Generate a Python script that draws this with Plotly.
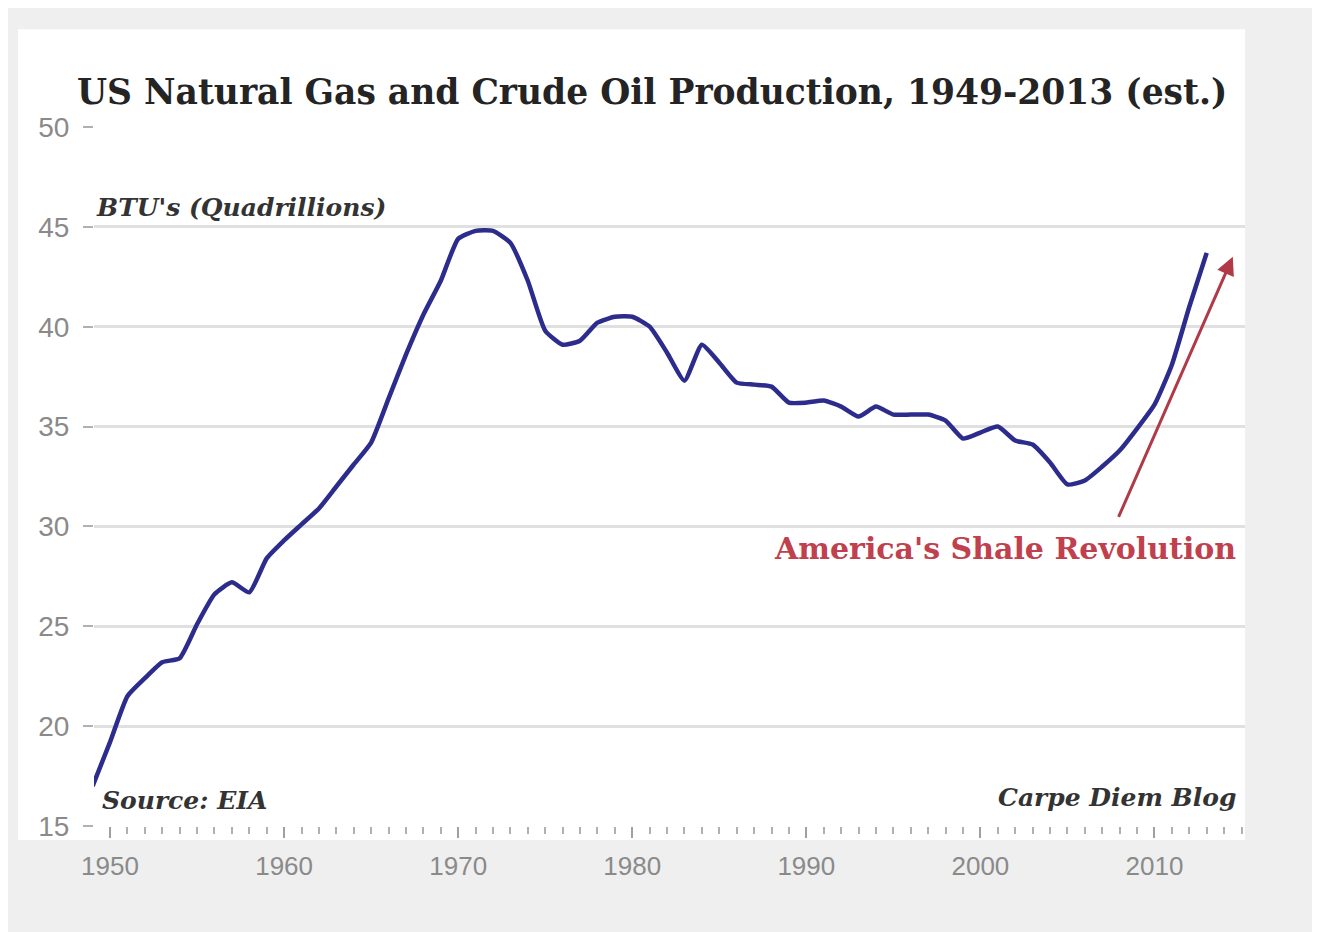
import plotly.graph_objects as go

years = list(range(1949, 2014))
btu = [
    17.0, 19.2, 21.5, 22.4, 23.2, 23.4, 25.1, 26.6, 27.2, 26.7,   # 1949-1958
    28.4, 29.3, 30.1, 30.9, 32.0, 33.1, 34.2, 36.4, 38.6, 40.6,   # 1959-1968
    42.3, 44.4, 44.8, 44.8, 44.2, 42.3, 39.8, 39.1, 39.3, 40.2,   # 1969-1978
    40.5, 40.5, 40.0, 38.7, 37.3, 39.1, 38.2, 37.2, 37.1, 37.0,   # 1979-1988
    36.2, 36.2, 36.3, 36.0, 35.5, 36.0, 35.6, 35.6, 35.6, 35.3,   # 1989-1998
    34.4, 34.7, 35.0, 34.3, 34.1, 33.2, 32.1, 32.3, 33.0, 33.8,   # 1999-2008
    34.9, 36.1, 38.1, 41.0, 43.7,                                 # 2009-2013
]

y_ticks = [15, 20, 25, 30, 35, 40, 45, 50]
x_ticks = [1950, 1960, 1970, 1980, 1990, 2000, 2010]

title_text = "US Natural Gas and Crude Oil Production, 1949-2013 (est.)"
unit_text = "BTU's (Quadrillions)"
source_text = "Source: EIA"
credit_text = "Carpe Diem Blog"
callout_text = "America's Shale Revolution"

fig = go.Figure()
fig.add_trace(go.Scatter(
    x=years, y=btu, mode="lines",
    line=dict(color="#2c2c8c", width=4.5, shape="spline", smoothing=0.5),
    hoverinfo="x+y", showlegend=False,
))

serif = "DejaVu Serif"
fig.update_layout(
    width=1312, height=924,
    margin=dict(l=86, r=75, t=119, b=106),
    paper_bgcolor="#efefef",
    plot_bgcolor="white",
    showlegend=False,
    shapes=[dict(type="rect", xref="paper", yref="paper",
                 x0=-0.066, x1=1.0, y0=-0.02, y1=1.14,
                 fillcolor="white", line=dict(width=0), layer="below")],
    xaxis=dict(
        range=[1949.08, 2015.2], tickvals=x_ticks, showgrid=False, zeroline=False,
        showline=False, ticks="outside", ticklen=11, tickwidth=2, tickcolor="#a0a0a0",
        tickfont=dict(family="Liberation Sans", size=26, color="#8a8a8a"),
        ticklabelstandoff=6,
        minor=dict(dtick=1, tick0=1949, ticks="outside", ticklen=7, tickwidth=2,
                   tickcolor="#b0b0b0", showgrid=False),
    ),
    yaxis=dict(
        range=[15, 50], tickvals=y_ticks, showgrid=True, gridcolor="#e0e0e0",
        gridwidth=3, zeroline=False, showline=False, ticks="outside", ticklen=10,
        tickwidth=2, tickcolor="#b0b0b0",
        tickfont=dict(family="Liberation Sans", size=28, color="#8a8a8a"),
        ticklabelstandoff=8,
    ),
    annotations=[
        dict(text=f"<b>{title_text}</b>", xref="paper", yref="paper",
             x=0.485, y=1.05, xanchor="center", yanchor="middle", showarrow=False,
             font=dict(family=serif, size=34.5, color="#242424")),
        dict(text=f"<b><i>{unit_text}</i></b>", xref="x", yref="y",
             x=1949.1, y=45.95, xanchor="left", yanchor="middle", showarrow=False,
             font=dict(family=serif, size=25, color="#333333")),
        dict(text=f"<b><i>{source_text}</i></b>", xref="x", yref="y",
             x=1949.4, y=16.3, xanchor="left", yanchor="middle", showarrow=False,
             font=dict(family=serif, size=25, color="#333333")),
        dict(text=f"<b><i>{credit_text}</i></b>", xref="x", yref="y",
             x=2014.8, y=16.45, xanchor="right", yanchor="middle", showarrow=False,
             font=dict(family=serif, size=25, color="#333333")),
        dict(text=f"<b>{callout_text}</b>", xref="x", yref="y",
             x=2001.4, y=28.9, xanchor="center", yanchor="middle", showarrow=False,
             font=dict(family=serif, size=30, color="#c0404e")),
        dict(text="", xref="x", yref="y", axref="x", ayref="y",
             x=2014.5, y=43.5, ax=2007.9, ay=30.4, showarrow=True,
             arrowhead=2, arrowsize=1.2, arrowwidth=3, arrowcolor="#b03a48"),
    ],
)

fig.write_html("out.html")
